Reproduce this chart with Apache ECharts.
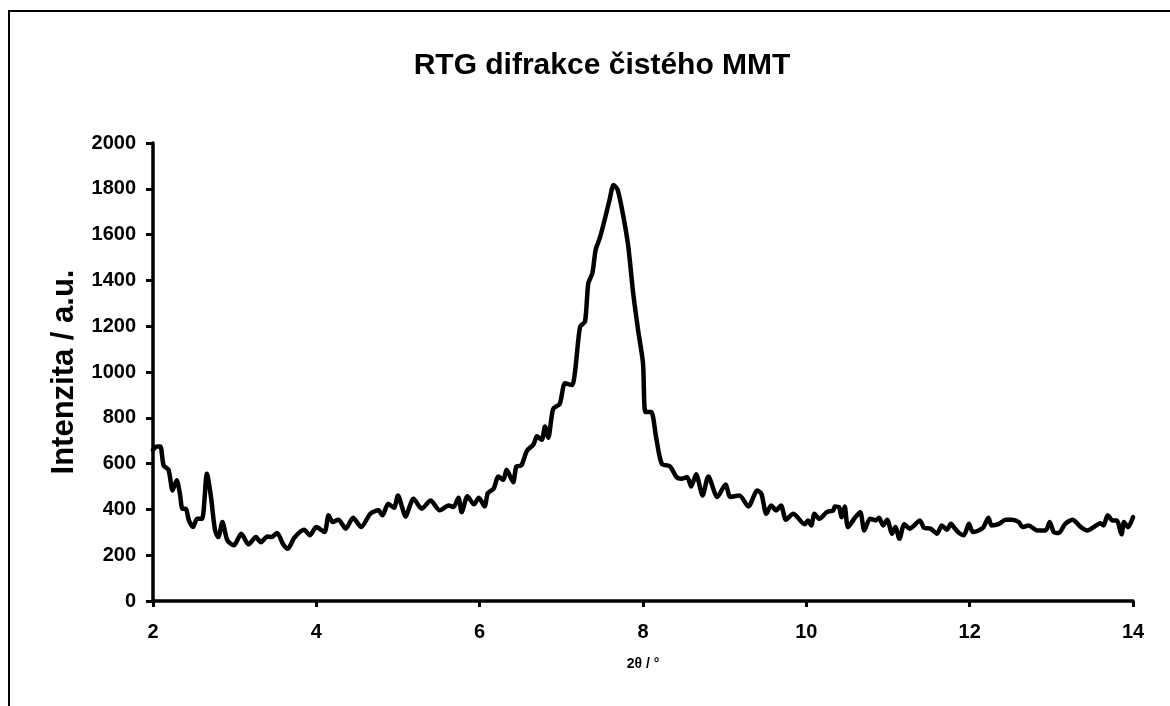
<!DOCTYPE html>
<html>
<head>
<meta charset="utf-8">
<script src="https://cdn.jsdelivr.net/npm/echarts@6/dist/echarts.min.js"></script>
<style>html,body{margin:0;padding:0;background:#fff;}#chart{width:1170px;height:706px;}</style>
</head>
<body>
<div id="chart"></div>
<script>
const titleText = 'RTG difrakce čistého MMT';
const xAxisName = '2θ / °';
const yAxisName = 'Intenzita / a.u.';
const xTicks = [2, 4, 6, 8, 10, 12, 14];
const yTicks = [0, 200, 400, 600, 800, 1000, 1200, 1400, 1600, 1800, 2000];

const twoTheta = [
2.00,2.05,2.09,2.13,2.19,2.24,2.29,2.33,2.36,2.40,2.44,2.49,2.54,2.60,2.66,2.71,2.76,2.80,2.85,2.91,
2.99,3.08,3.17,3.26,3.32,3.40,3.45,3.52,3.59,3.65,3.73,3.85,3.92,4.00,4.10,4.15,4.20,4.27,4.36,4.45,
4.55,4.66,4.76,4.81,4.88,4.95,5.00,5.05,5.09,5.19,5.29,5.40,5.51,5.62,5.68,5.74,5.78,5.85,5.93,5.99,
6.06,6.10,6.17,6.23,6.29,6.33,6.41,6.45,6.51,6.58,6.66,6.70,6.76,6.80,6.84,6.90,6.98,7.045,7.13,7.17,
7.23,7.29,7.33,7.38,7.42,7.47,7.53,7.59,7.64,7.69,7.76,7.82,7.88,7.94,8.00,8.03,8.10,8.16,8.23,8.33,
8.41,8.47,8.54,8.59,8.65,8.73,8.80,8.91,9.01,9.07,9.18,9.29,9.40,9.45,9.51,9.57,9.63,9.69,9.75,9.84,
9.98,10.02,10.06,10.10,10.16,10.25,10.33,10.35,10.40,10.43,10.47,10.51,10.60,10.66,10.71,10.78,10.85,10.89,10.94,10.99,
11.05,11.09,11.14,11.20,11.27,11.32,11.39,11.44,11.52,11.60,11.66,11.72,11.77,11.82,11.87,11.93,11.99,12.04,12.11,12.17,
12.23,12.27,12.36,12.44,12.52,12.60,12.65,12.72,12.83,12.93,12.98,13.03,13.09,13.17,13.26,13.36,13.44,13.52,13.60,13.64,
13.69,13.75,13.80,13.86,13.89,13.94,14.00
];
const intensity = [
660,675,675,592,573,483,527,468,403,403,352,323,359,359,556,454,308,279,345,265,
243,294,247,279,257,282,279,297,250,228,276,311,287,323,301,374,345,355,316,363,
323,381,396,374,425,407,461,410,369,447,403,439,396,417,410,451,388,457,422,451,
413,471,490,544,529,573,519,588,592,657,684,719,704,762,713,839,860,951,943,1009,
1198,1220,1387,1431,1533,1584,1664,1751,1817,1795,1678,1547,1344,1183,1038,825,825,716,599,588,
541,534,541,500,553,461,544,454,509,454,461,413,483,468,381,417,396,417,355,381,
335,352,330,381,359,388,396,413,410,366,413,323,366,388,308,359,352,363,330,355,
294,323,272,335,316,330,352,320,316,294,330,311,337,316,297,287,337,301,308,323,
363,330,337,355,355,345,323,330,308,308,345,301,297,337,355,323,308,323,340,330,
374,352,352,291,345,323,366
];

const FONT = '"Liberation Sans", Arial, sans-serif';
const chart = echarts.init(document.getElementById('chart'), null, {renderer: 'canvas'});
const seriesData = twoTheta.map((x, i) => [x, intensity[i]]);

chart.setOption({
  animation: false,
  backgroundColor: '#ffffff',
  title: {
    text: titleText,
    left: 597,
    top: 46,
    textAlign: 'center',
    textStyle: {fontFamily: FONT, fontWeight: 'bold', fontSize: 30, color: '#000'}
  },
  graphic: [{
    type: 'rect',
    shape: {x: 9, y: 11, width: 1300, height: 900},
    style: {fill: 'none', stroke: '#000', lineWidth: 2},
    silent: true,
    z: -1
  }],
  grid: {left: 153, top: 143, right: 37, bottom: 105, containLabel: false},
  xAxis: {
    type: 'value',
    min: xTicks[0],
    max: xTicks[xTicks.length - 1],
    interval: xTicks[1] - xTicks[0],
    name: xAxisName,
    nameLocation: 'middle',
    nameGap: 56,
    nameTextStyle: {fontFamily: FONT, fontWeight: 'bold', fontSize: 14, color: '#000'},
    axisLine: {show: true, onZero: false, lineStyle: {color: '#000', width: 3.5}},
    axisTick: {show: true, inside: false, length: 6, lineStyle: {color: '#000', width: 3}},
    axisLabel: {margin: 21, fontFamily: FONT, fontWeight: 'bold', fontSize: 20, color: '#000'},
    splitLine: {show: false}
  },
  yAxis: {
    type: 'value',
    min: yTicks[0],
    max: yTicks[yTicks.length - 1],
    interval: yTicks[1] - yTicks[0],
    name: yAxisName,
    nameLocation: 'middle',
    nameRotate: 90,
    nameGap: 73,
    nameTextStyle: {fontFamily: FONT, fontWeight: 'bold', fontSize: 31, color: '#000'},
    axisLine: {show: true, onZero: false, lineStyle: {color: '#000', width: 3.5}},
    axisTick: {show: true, inside: false, length: 7, lineStyle: {color: '#000', width: 3}},
    axisLabel: {margin: 17, fontFamily: FONT, fontWeight: 'bold', fontSize: 20, color: '#000',
      formatter: function (v) { return String(v); }},
    splitLine: {show: false}
  },
  series: [{
    type: 'line',
    data: seriesData,
    showSymbol: false,
    smooth: 0.25,
    lineStyle: {color: '#000', width: 4.5, join: 'round', cap: 'round'},
    clip: true
  }]
});
</script>
</body>
</html>
